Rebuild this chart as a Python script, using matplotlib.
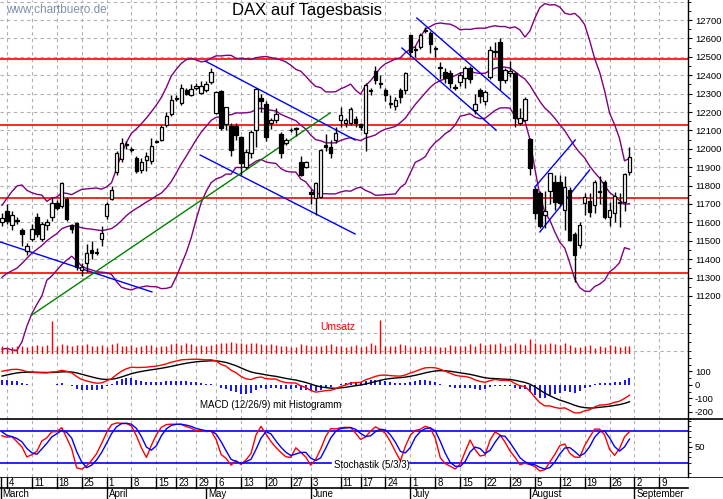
import numpy as np
import pandas as pd
import matplotlib
matplotlib.use("Agg")
import matplotlib.pyplot as plt

plt.rcParams["font.family"] = "Liberation Sans"

# ---------------- data ----------------
feb_closes = [11180, 11176, 11368, 11325, 11022, 10906, 11014, 11126, 11167, 11089,
              11299, 11309, 11278, 11401, 11423, 11458, 11505, 11540, 11487, 11515]

opens = [11600,11662,11585,11607,11560,11445,11510,11629,11510,11585,
         11630,11705,11690,11727,11585,11597,11340,11380,11450,11434,
         11510,11635,11727,11874,11945,12020,11993,11950,11885,11939,
         11934,12036,12048,12130,12190,12270,12250,12320,12293,12330,
         12303,12320,12363,12195,12314,12135,12124,12124,12064,11900,
         11977,12102,12276,12243,12140,12157,12080,12030,12100,12110,
         11928,11900,11765,11733,11738,12020,12010,12048,12157,12140,
         12140,12160,12135,12086,12314,12423,12352,12320,12243,12233,
         12320,12320,12618,12540,12553,12646,12630,12543,12440,12418,
         12412,12330,12363,12385,12440,12212,12320,12260,12390,12526,
         12580,12374,12412,12412,12140,12157,12053,11781,11760,11640,
         11770,11820,11820,11667,11776,11537,11477,11705,11716,11695,
         11765,11820,11630,11650,11705,11711,11874]
closes = [11625,11607,11640,11610,11537,11472,11564,11537,11590,11600,
          11705,11680,11814,11618,11565,11356,11360,11434,11434,11436,
          11542,11700,11775,11977,12031,12025,11995,11879,11928,11960,
          12015,12040,12118,12180,12265,12276,12330,12298,12325,12340,
          12342,12350,12417,12309,12113,12227,11993,12075,11922,11982,
          12091,12325,12260,12064,12157,12190,11977,12048,12102,12112,
          11858,11928,11755,11814,11993,12010,11977,12086,12185,12157,
          12216,12140,12118,12347,12316,12374,12354,12293,12245,12265,
          12282,12412,12526,12537,12618,12640,12570,12545,12442,12385,
          12357,12332,12400,12440,12380,12244,12287,12309,12537,12530,
          12374,12428,12422,12167,12167,12271,11896,11651,11580,11662,
          11868,11710,11705,11793,11504,11423,11586,11738,11657,11820,
          11767,11630,11667,11743,11707,11863,11955]
highs = [11650,11700,11660,11630,11570,11490,11590,11650,11600,11620,
         11740,11720,11820,11740,11590,11600,11380,11480,11500,11460,
         11580,11710,11800,11990,12060,12040,12010,11960,11950,11980,
         12060,12050,12130,12200,12290,12290,12350,12330,12350,12360,
         12370,12370,12440,12315,12320,12230,12140,12140,12070,12000,
         12100,12330,12300,12260,12170,12220,12090,12060,12115,12120,
         11960,11935,11780,11820,12000,12080,12050,12120,12230,12170,
         12230,12180,12140,12360,12330,12450,12400,12330,12290,12280,
         12330,12420,12620,12560,12630,12660,12640,12560,12470,12440,
         12430,12350,12420,12450,12450,12300,12330,12320,12560,12580,
         12600,12440,12480,12420,12220,12280,12060,11790,11770,11770,
         11870,11860,11860,11850,11790,11550,11600,11760,11760,11830,
         11850,11830,11710,11765,11760,11870,12010]
lows = [11580,11590,11560,11590,11470,11420,11500,11520,11500,11560,
        11610,11670,11680,11610,11540,11340,11310,11330,11400,11420,
        11470,11620,11720,11860,11930,12000,11980,11870,11870,11880,
        11920,12030,12040,12120,12180,12260,12240,12290,12285,12320,
        12300,12310,12350,12190,12100,12100,11960,12050,11860,11890,
        11950,12010,12200,12040,12110,12140,11950,12020,12090,12070,
        11850,11895,11700,11640,11730,11990,11950,12030,12120,12120,
        12130,12120,12100,11990,12290,12350,12330,12260,12220,12210,
        12250,12300,12500,12500,12540,12630,12520,12500,12380,12360,
        12330,12320,12340,12330,12360,12190,12250,12240,12380,12500,
        12320,12360,12390,12120,12130,12150,11860,11620,11570,11570,
        11700,11670,11690,11560,11500,11276,11460,11640,11630,11650,
        11700,11620,11580,11600,11575,11660,11860]
volumes = [80,70,75,85,80,75,85,90,80,90,
           330,85,100,90,80,95,90,100,85,80,
           95,70,100,110,85,80,95,75,80,95,
           90,75,80,85,100,110,95,110,100,85,
           90,80,95,100,115,110,120,115,110,105,
           115,110,105,90,100,95,85,80,75,70,
           100,90,80,80,85,90,100,85,85,75,
           80,95,75,80,110,95,340,80,85,85,
           100,90,75,85,70,85,80,80,75,75,
           90,80,85,85,105,85,110,95,105,100,
           110,80,95,110,100,95,155,115,105,105,
           110,100,90,110,95,75,70,85,95,60,
           85,70,95,80,75,80,85]

week_ticks = [1, 6, 11, 16, 21, 26, 31, 35, 39, 43, 48, 53, 58, 62, 68, 72, 77,
              82, 87, 92, 97, 102, 107, 112, 117, 122, 127, 132]
week_labels = ["4", "11", "18", "25", "1", "8", "15", "23", "29", "6", "13", "20", "27",
               "3", "11", "17", "24", "1", "8", "15", "22", "29", "5", "12", "19", "26",
               "2", "9"]
month_pos = [-0.4, 21, 41, 62, 82, 106, 127]
month_labels = ["March", "April", "May", "June", "July", "August", "September"]
hlines_red = [12490, 12130, 11735, 11325]
trend_blue = [((-0.4, 11494), (30.1, 11222)), ((40.8, 12477), (70.9, 12048)),
              ((39.8, 11966), (70.9, 11537)), ((83.3, 12711), (102, 12271)),
              ((80.3, 12548), (99.2, 12102)), ((107, 11792), (115.1, 12048)),
              ((108, 11548), (118, 11885))]
trend_green = [((6, 11097), (65.9, 12195))]

# ---------------- indicators ----------------
n = len(closes)
idx = np.arange(n)
allc = pd.Series(feb_closes + closes, dtype=float)
nf = len(feb_closes)
ma = allc.rolling(20).mean()
sd = allc.rolling(20).std(ddof=0)
bb_up = (ma + 2 * sd).values[nf:]
bb_lo = (ma - 2 * sd).values[nf:]
bb_mid = ma.values[nf:]
ema12 = allc.ewm(span=12, adjust=False).mean()
ema26 = allc.ewm(span=26, adjust=False).mean()
macd = ema12 - ema26
sig = macd.ewm(span=9, adjust=False).mean()
macd_v = macd.values[nf:]
sig_v = sig.values[nf:]
hist = macd_v - sig_v
allh = pd.Series(feb_closes + highs, dtype=float)
alll = pd.Series(feb_closes + lows, dtype=float)
hh = allh.rolling(5).max()
ll = alll.rolling(5).min()
num = (allc - ll).rolling(3).sum()
den = (hh - ll).rolling(3).sum()
k_slow = (100 * num / den)
d_slow = k_slow.rolling(3).mean()
k_v = k_slow.values[nf:]
d_v = d_slow.values[nf:]

# ---------------- layout ----------------
W, H = 723, 499
fig = plt.figure(figsize=(7.23, 4.99), dpi=100)
fig.patch.set_facecolor("white")

def rect(x0, y0, x1, y1):
    return [x0 / W, 1 - y1 / H, (x1 - x0) / W, (y1 - y0) / H]

XL = (-0.4, 137.75)
RIGHT = 688
grid_kw = dict(color="#b0b0b0", linestyle=(0, (3, 3)), linewidth=0.8)

def style_panel(ax):
    ax.set_xlim(*XL)
    for s in ["top", "left", "bottom"]:
        ax.spines[s].set_visible(False)
    ax.spines["right"].set_color("black")
    ax.spines["right"].set_linewidth(1)
    ax.yaxis.tick_right()
    ax.tick_params(axis="y", length=3, direction="out", labelsize=6.8, pad=2)
    ax.set_xticks([])
    for t in week_ticks:
        ax.axvline(t, zorder=0, **grid_kw)

# price panel
ax = fig.add_axes(rect(0, 0, RIGHT, 355))
style_panel(ax)
ax.set_ylim(10879, 12809)
pt = list(range(11200, 12701, 100))
ax.set_yticks(pt)
ax.set_yticklabels([str(v) for v in pt])
ax.set_yticks(list(range(10900, 12801, 50)), minor=True)
ax.tick_params(axis="y", which="minor", length=2)
for v in range(10900, 12801, 100):
    ax.axhline(v, zorder=0, **grid_kw)
for v in hlines_red:
    ax.axhline(v, color="#ff0000", linewidth=1.2, zorder=1)
ax.plot(idx, bb_up, color="#800080", linewidth=1, zorder=2)
ax.plot(idx, bb_lo, color="#800080", linewidth=1, zorder=2)
ax.plot(idx, bb_mid, color="#800080", linewidth=1, zorder=2)
for (a, b) in trend_blue:
    ax.plot([a[0], b[0]], [a[1], b[1]], color="#0000ff", linewidth=1, zorder=3)
for (a, b) in trend_green:
    ax.plot([a[0], b[0]], [a[1], b[1]], color="#008000", linewidth=1, zorder=3)
o = np.array(opens); c = np.array(closes)
ax.vlines(idx, lows, highs, color="black", linewidth=1, zorder=4)
up = c >= o
bw = 0.7
bottoms = np.minimum(o, c)
heights = np.maximum(np.abs(c - o), 4)
ax.bar(idx[up], heights[up], bottom=bottoms[up], width=bw, color="white",
       edgecolor="black", linewidth=0.9, zorder=5)
ax.bar(idx[~up], heights[~up], bottom=bottoms[~up], width=bw, color="black",
       edgecolor="black", linewidth=0.9, zorder=5)
ax.text(232 / W, 1 - 10 / H, "DAX auf Tagesbasis", transform=fig.transFigure,
        fontsize=12, va="center", ha="left", color="black")
ax.text(6 / W, 1 - 10 / H, "www.chartbuero.de", transform=fig.transFigure,
        fontsize=8.5, va="center", ha="left", color="#8090a8")

# volume overlay
axv = fig.add_axes(rect(0, 310, RIGHT, 354))
axv.set_xlim(*XL)
axv.set_ylim(0, 440)
axv.axis("off")
axv.patch.set_alpha(0)
axv.vlines(idx, 0, volumes, color="#ff0000", linewidth=1)
fig.text(320 / W, 1 - 327 / H, "Umsatz", color="#ff0000", fontsize=7.5, va="center")

# MACD panel
axm = fig.add_axes(rect(0, 355, RIGHT, 419))
style_panel(axm)
axm.set_ylim(-252, 222)
axm.set_yticks([100, 0, -100, -200])
axm.set_yticklabels(["100", "0", "-100", "-200"])
axm.set_yticks([-250, -150, -50, 50, 150, 200], minor=True)
axm.tick_params(axis="y", which="minor", length=2)
axm.vlines(idx, 0, hist, color="#0000ff", linewidth=1.3)
axm.plot(idx, sig_v, color="black", linewidth=1)
axm.plot(idx, macd_v, color="#ff0000", linewidth=1)
fig.text(200 / W, 1 - 405 / H, "MACD (12/26/9) mit Histogramm", fontsize=7,
         va="center", color="black")
fig.add_artist(plt.Line2D([0, 1], [1 - 419 / H] * 2,
                          color="black", linewidth=1.2, transform=fig.transFigure))

# stochastic panel
axs = fig.add_axes(rect(0, 419, RIGHT, 477))
style_panel(axs)
axs.set_ylim(-8, 104)
axs.set_yticks([50])
axs.set_yticklabels(["50"])
axs.set_yticks([0, 20, 30, 40, 60, 70, 80, 90, 100], minor=True)
axs.tick_params(axis="y", which="minor", length=2)
axs.axhline(80, color="#0000ff", linewidth=1.2)
axs.plot([XL[0], 66], [20, 20], color="#0000ff", linewidth=1.2)
axs.plot([82, XL[1]], [20, 20], color="#0000ff", linewidth=1.2)
axs.plot(idx, k_v, color="#ff0000", linewidth=1)
axs.plot(idx, d_v, color="#0000ff", linewidth=1)
fig.text(334 / W, 1 - 465 / H, "Stochastik (5/3/3)", fontsize=7, va="center",
         color="black")

# date axis
axd = fig.add_axes(rect(0, 477, W, 499))
axd.set_xlim(XL[0], XL[0] + (XL[1] - XL[0]) * W / RIGHT)
axd.set_ylim(0, 22)
axd.axis("off")
axd.axhline(22, color="black", linewidth=1.2)
axd.axhline(11, color="black", linewidth=1.2, xmax=RIGHT / W)
axd.vlines([-0.2], 0, 22, color="black", linewidth=1)
for t, lab in zip(week_ticks, week_labels):
    axd.plot([t, t], [11, 22], color="black", linewidth=1)
    axd.text(t + 0.4, 16.5, lab, fontsize=7, va="center", ha="left")
for p, lab in zip(month_pos, month_labels):
    if p > 0:
        axd.plot([p, p], [0, 11], color="black", linewidth=1)
    axd.text(p + 0.4, 5, lab, fontsize=7, va="center", ha="left")

fig.savefig("out.png", dpi=100, facecolor="white")
